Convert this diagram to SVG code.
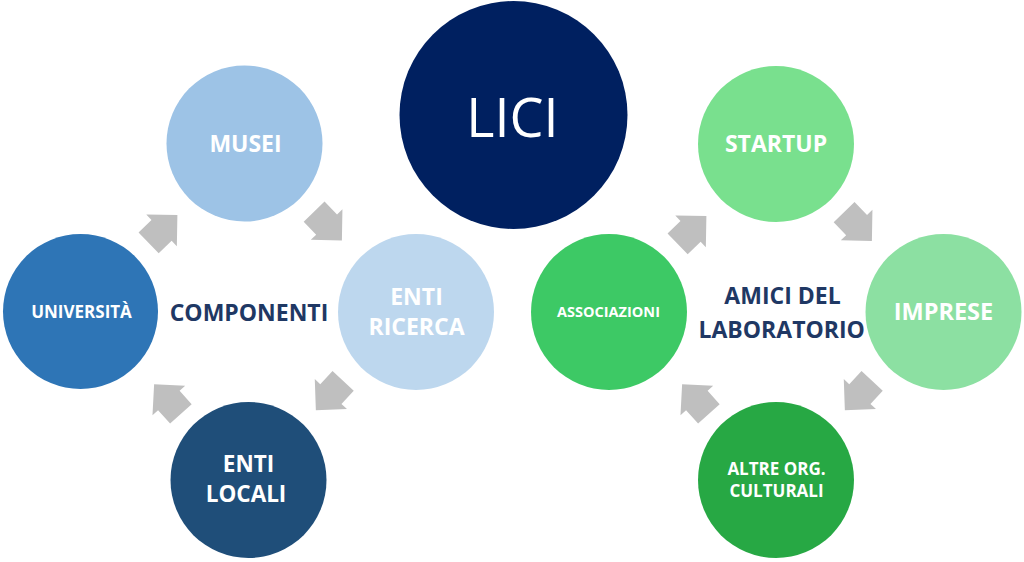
<svg xmlns="http://www.w3.org/2000/svg" xmlns:xlink="http://www.w3.org/1999/xlink" width="1024" height="562" viewBox="0 0 1024 562">
  <style>
    .lbl { font-family: "Open Sans", "Liberation Sans", sans-serif; font-weight: 700; fill: #FFFFFF; text-anchor: middle; }
    .title { font-family: "Open Sans", "Liberation Sans", sans-serif; font-weight: 700; fill: #1F3864; text-anchor: middle; }
    .lici { font-family: "Open Sans", "Liberation Sans", sans-serif; font-weight: 400; fill: #FFFFFF; text-anchor: middle; }
    .arr { fill: #BFBFBF; }
  </style>
  <defs>
    <path id="arrow" d="M-20,-14.5 H-2 V-22 L20,0 L-2,22 V14.5 H-20 Z"/>
  </defs>
  <rect width="1024" height="562" fill="#FFFFFF"/>

  <g id="connectors" class="arr">
    <use xlink:href="#arrow" href="#arrow" transform="translate(163,229) rotate(-44)"/>
    <use xlink:href="#arrow" href="#arrow" transform="translate(328,226) rotate(46)"/>
    <use xlink:href="#arrow" href="#arrow" transform="translate(329.5,395.5) rotate(133)"/>
    <use xlink:href="#arrow" href="#arrow" transform="translate(167.5,399) rotate(228)"/>
    <use xlink:href="#arrow" href="#arrow" transform="translate(692,230) rotate(-44)"/>
    <use xlink:href="#arrow" href="#arrow" transform="translate(858,226.5) rotate(46)"/>
    <use xlink:href="#arrow" href="#arrow" transform="translate(858.5,395.5) rotate(133)"/>
    <use xlink:href="#arrow" href="#arrow" transform="translate(695.5,399) rotate(228)"/>
  </g>

  <g id="lici">
    <circle cx="513.5" cy="115" r="114" fill="#002060"/>
    <text class="lici" x="512.5" y="137" font-size="54">LICI</text>
  </g>

  <g id="musei">
    <circle cx="244.5" cy="143.5" r="78" fill="#9DC3E6"/>
    <text class="lbl" x="245.5" y="152" font-size="23">MUSEI</text>
  </g>
  <g id="universita">
    <circle cx="80.5" cy="311.5" r="77.5" fill="#2E75B6"/>
    <text class="lbl" x="81.5" y="317.5" font-size="17">UNIVERSITÀ</text>
  </g>
  <g id="enti-ricerca">
    <circle cx="416" cy="312" r="78" fill="#BDD7EE"/>
    <text class="lbl" x="416.5" y="304.5" font-size="23">ENTI</text>
    <text class="lbl" x="416.5" y="334.5" font-size="23">RICERCA</text>
  </g>
  <g id="enti-locali">
    <circle cx="248.5" cy="480" r="78" fill="#1F4E79"/>
    <text class="lbl" x="248.5" y="471.5" font-size="22.5">ENTI</text>
    <text class="lbl" x="246" y="501.5" font-size="22.5">LOCALI</text>
  </g>
  <g id="componenti">
    <text class="title" x="249" y="320.5" font-size="23">COMPONENTI</text>
  </g>

  <g id="startup">
    <circle cx="776" cy="144" r="78" fill="#79E08E"/>
    <text class="lbl" x="776" y="152.3" font-size="23">STARTUP</text>
  </g>
  <g id="associazioni">
    <circle cx="609" cy="312" r="78" fill="#3DC965"/>
    <text class="lbl" x="608.5" y="316.7" font-size="14.5">ASSOCIAZIONI</text>
  </g>
  <g id="imprese">
    <circle cx="943.5" cy="312" r="78" fill="#8CE0A2"/>
    <text class="lbl" x="943.5" y="320" font-size="23.5">IMPRESE</text>
  </g>
  <g id="altre-org">
    <circle cx="776" cy="480" r="78" fill="#27A844"/>
    <text class="lbl" x="776.5" y="475" font-size="17">ALTRE ORG.</text>
    <text class="lbl" x="776.5" y="497.3" font-size="17">CULTURALI</text>
  </g>
  <g id="amici">
    <text class="title" x="782.5" y="304.3" font-size="23">AMICI DEL</text>
    <text class="title" x="781.7" y="337.7" font-size="23">LABORATORIO</text>
  </g>
</svg>
